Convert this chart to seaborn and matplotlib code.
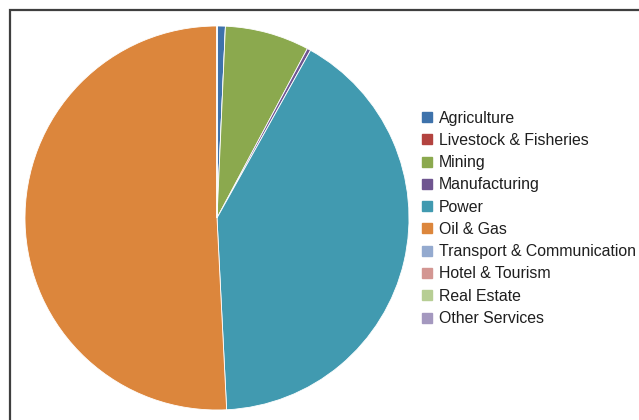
import matplotlib
matplotlib.use("Agg")
import matplotlib.pyplot as plt
from matplotlib.lines import Line2D
from matplotlib.patches import Rectangle
import seaborn as sns

# Share of investment by sector (%)
sectors = ["Agriculture", "Livestock & Fisheries", "Mining", "Manufacturing",
           "Power", "Oil & Gas", "Transport & Communication", "Hotel & Tourism",
           "Real Estate", "Other Services"]
shares = [0.7, 0.0, 7.1, 0.3, 41.1, 50.8, 0.0, 0.0, 0.0, 0.0]
sector_colors = ["#3E72AB", "#B3433F", "#8BA94E", "#6F5590", "#419AB0",
                 "#DC863C", "#94AACF", "#D39692", "#B7CE94", "#A498BF"]

sns.set_theme(style="white")
plt.rcParams["font.family"] = ["Liberation Sans", "DejaVu Sans"]
palette = sns.color_palette(sector_colors)

fig = plt.figure(figsize=(6.39, 4.2), dpi=100)
fig.patch.set_facecolor("white")

ax = fig.add_axes([25 / 639, 10 / 420, 384 / 639, 384 / 420])
ax.pie(shares, colors=palette, startangle=90, counterclock=False,
       radius=1.0, wedgeprops=dict(linewidth=0.6, edgecolor="white"))
ax.set_xlim(-1, 1)
ax.set_ylim(-1, 1)
ax.set_aspect("auto")
ax.axis("off")

handles = [Line2D([0], [0], marker="s", linestyle="none", markersize=6.5,
                  markerfacecolor=c, markeredgecolor=c) for c in palette]
fig.legend(handles, sectors, loc="upper left",
           bbox_to_anchor=(421.5 / 639, 1 - 110.5 / 420),
           frameon=False, fontsize=11.4, labelspacing=0.46,
           handlelength=0.75, handletextpad=0.35, borderaxespad=0,
           borderpad=0, labelcolor="#1f1f1f")

# chart area border
fig.patches.append(Rectangle((10 / 639, -0.1), 1.1, (420 - 10) / 420 + 0.1,
                             transform=fig.transFigure, fill=False,
                             edgecolor="#3f3f3f", linewidth=1.6))

fig.savefig("out.png", dpi=100)
